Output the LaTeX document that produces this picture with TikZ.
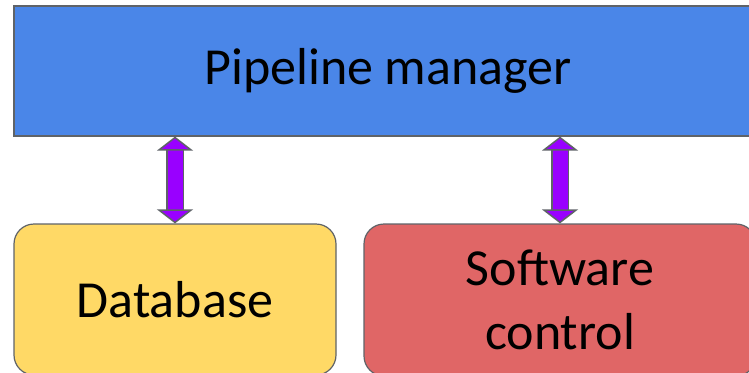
\documentclass[tikz,border=0pt]{standalone}
\usepackage{fontspec}
\setmainfont{Carlito}
\usetikzlibrary{arrows.meta}
\definecolor{mgrblue}{HTML}{4A86E8}
\definecolor{dbyellow}{HTML}{FFD966}
\definecolor{swred}{HTML}{E06666}
\definecolor{linkpurple}{HTML}{9900FF}
\definecolor{edgegray}{HTML}{5F6368}
\tikzset{
  box/.style={draw=edgegray, line width=1.2pt, inner sep=0pt, align=center,
    font=\fontsize{52}{64}\selectfont},
  link/.style={draw=edgegray, line width=1.5pt, double=linkpurple, double distance=15pt,
    {Triangle[length=14pt,width=36pt,fill=linkpurple]}-{Triangle[length=14pt,width=36pt,fill=linkpurple]}}
}
\begin{document}
\begin{tikzpicture}[x=1pt,y=-1pt]
\useasboundingbox (0,0) rectangle (749,372);
\node[box, fill=mgrblue, minimum width=748pt, minimum height=130pt] (pm) at (388,71) {Pipeline manager};
\node[box, fill=dbyellow, rounded corners=20pt, minimum width=322pt, minimum height=151pt] (db) at (175,299.5) {Database};
\node[box, fill=swred, rounded corners=20pt, minimum width=392pt, minimum height=152pt] (sw) at (560,300) {Software\\control};
\path[link] (db.north |- pm.south) -- (db.north);
\path[link] (sw.north |- pm.south) -- (sw.north);
\end{tikzpicture}
\end{document}
